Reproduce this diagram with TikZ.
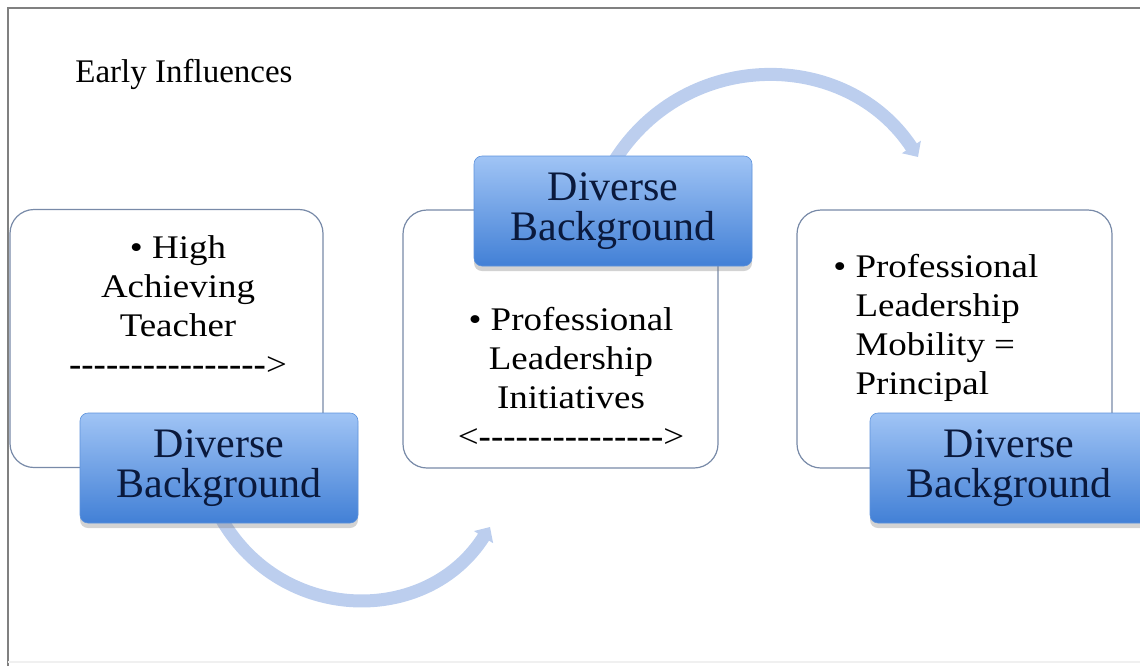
\documentclass[tikz,border=0pt]{standalone}
\usepackage{fontspec}
\setmainfont{Liberation Serif}
\newfontfamily\widefont{Liberation Serif}[FakeStretch=1.12]
\usetikzlibrary{arrows.meta,shadows}

\definecolor{framegray}{RGB}{128,128,128}
\definecolor{boxedge}{RGB}{120,138,168}
\definecolor{bgtop}{RGB}{160,196,245}
\definecolor{bgbot}{RGB}{66,128,214}
\definecolor{bgtext}{RGB}{10,25,60}
\definecolor{arcblue}{RGB}{188,206,238}

\newcommand\dashrun[1]{\foreach \k in {1,...,#1}{-\kern0pt}}

\begin{document}
\begin{tikzpicture}[x=0.5pt, y=-0.5pt,
	infobox/.style={draw=boxedge, line width=0.6pt, fill=white, rounded corners=12pt, minimum width=157.5pt, minimum height=129pt},
	bgbox/.style={top color=bgtop, bottom color=bgbot, draw=bgbot!85!white, line width=0.3pt, rounded corners=4pt, minimum width=139pt, minimum height=55pt, text=bgtext, align=center, font=\fontsize{21}{20}\selectfont, drop shadow={shadow xshift=0pt, shadow yshift=-2.5pt, opacity=0.35}},
	bullets/.style={font=\widefont\fontsize{16.5}{19.5}\selectfont, inner sep=0pt},
	flow/.style={draw=arcblue, line width=6.5pt, -{Triangle[width=11pt, length=6pt]}}]
	\useasboundingbox (0,0) rectangle (1140,666);
	
	\draw[framegray, line width=1.3pt] (8,666) -- (8,8) -- (1140,8);
	\draw[gray!12, line width=0.6pt] (8,662) -- (1140,662);
	
	\node[anchor=base west, font=\fontsize{16.5}{19.5}\selectfont, inner sep=0pt] (title) at (75,82) {Early Influences};
	
	\node[infobox, minimum width=156.5pt] (lbox) at (166.5,338.5) {};
	\node[infobox] (mbox) at (560.5,339) {};
	\node[infobox] (rbox) at (954.5,339) {};
	
	\node[bullets, align=center, anchor=base] (ltxt) at (178,375) {\textbullet\ High\\Achieving\\Teacher\\{\bfseries\dashrun{16}}>};
	\node[bullets, align=center, anchor=base] (mtxt) at (571,447) {\textbullet\ Professional\\Leadership\\Initiatives\\<{\bfseries\dashrun{15}}>};
	\node[bullets, align=left, anchor=base west] (rtxt) at (833,394) {\textbullet\ Professional\\\hphantom{\textbullet\ }Leadership\\\hphantom{\textbullet\ }Mobility =\\\hphantom{\textbullet\ }Principal};
	
	\coordinate (lstart) at (222,520);
	\coordinate (lend) at (490,527);
	\coordinate (mstart) at (615,160);
	\coordinate (mend) at (918,157);
	
	\draw[flow] (lstart) .. controls (283,624) and (427,626) .. (lend);
	\draw[flow] (mstart) .. controls (686,48) and (846,48) .. (mend);
	
	\node[bgbox] (lbg) at (219,468) {Diverse\\Background};
	\node[bgbox] (mbg) at (613,211) {Diverse\\Background};
	\node[bgbox] (rbg) at (1009,468) {Diverse\\Background};
\end{tikzpicture}
\end{document}
